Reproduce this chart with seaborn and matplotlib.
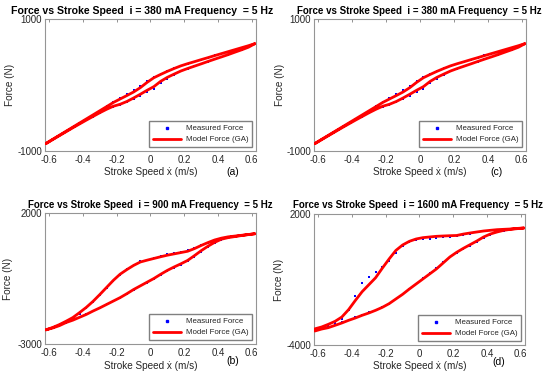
import pandas as pd
import matplotlib
matplotlib.use('Agg')
import matplotlib.pyplot as plt
from matplotlib.lines import Line2D
import seaborn as sns

# Stroke speed grid (m/s), shared by all branches
speed = [-0.62, -0.58, -0.54, -0.50, -0.46, -0.42, -0.38, -0.34, -0.30, -0.26, -0.22,
         -0.18, -0.14, -0.10, -0.06, -0.02, 0.02, 0.06, 0.10, 0.14, 0.18, 0.22,
         0.26, 0.30, 0.34, 0.38, 0.42, 0.46, 0.50, 0.54, 0.58, 0.62]

# i = 380 mA (panels a and c)
meas_380_up = [-884, -822, -760, -699, -637, -574, -512, -450, -388, -324, -258, -198,
               -138, -78, -10, 62, 118, 163, 208, 252, 292, 325, 355, 386, 416, 447,
               477, 507, 537, 567, 598, 625]
meas_380_low = [-888, -830, -770, -710, -650, -592, -535, -478, -422, -370, -326, -296,
                -258, -212, -162, -105, -55, 25, 96, 155, 206, 246, 282, 317, 352, 388,
                422, 457, 494, 531, 570, 625]
model_380_up = [-886, -824, -762, -700, -638, -576, -514, -452, -390, -328, -265, -212,
                -160, -106, -40, 40, 110, 160, 207, 250, 290, 323, 353, 384, 414, 445,
                475, 505, 535, 565, 595, 628]
model_380_low = [-890, -828, -768, -708, -648, -590, -532, -476, -420, -368, -322, -292,
                 -250, -197, -140, -80, -25, 55, 116, 165, 212, 250, 285, 320, 356, 391,
                 425, 460, 497, 533, 572, 628]

# i = 900 mA (panel b)
meas_900_up = [-2450, -2370, -2270, -2150, -2040, -1870, -1640, -1400, -1130, -860, -590,
               -350, -150, 20, 150, 225, 295, 360, 420, 475, 530, 590, 670, 770, 870,
               960, 1030, 1080, 1115, 1145, 1175, 1200]
meas_900_low = [-2450, -2380, -2290, -2190, -2080, -1970, -1860, -1735, -1615, -1490,
                -1360, -1230, -1085, -930, -795, -660, -520, -370, -230, -100, 20, 150,
                320, 510, 690, 850, 975, 1045, 1090, 1130, 1170, 1200]
model_900_up = [-2460, -2370, -2260, -2130, -1990, -1800, -1600, -1370, -1110, -840, -570,
                -335, -160, 0, 130, 200, 265, 330, 390, 440, 490, 540, 640, 760, 870,
                970, 1040, 1090, 1120, 1150, 1180, 1210]
model_900_low = [-2460, -2390, -2300, -2180, -2090, -1980, -1870, -1740, -1620, -1490,
                 -1360, -1230, -1080, -920, -780, -640, -500, -340, -190, -60, 60, 190,
                 370, 560, 730, 880, 1000, 1060, 1100, 1140, 1175, 1210]

# i = 1600 mA (panel d)
meas_1600_up = [-3290, -3221, -3115, -2992, -2809, -2382, -1771, -1160, -885, -656, -443,
                -168, 214, 519, 702, 794, 840, 870, 901, 931, 962, 1008, 1053, 1099,
                1160, 1206, 1252, 1282, 1313, 1328, 1343, 1359]
meas_1600_low = [-3300, -3220, -3150, -3050, -2950, -2840, -2730, -2610, -2500, -2390,
                 -2260, -2100, -1900, -1680, -1430, -1190, -950, -710, -470, -210, 40,
                 230, 390, 550, 720, 900, 1050, 1160, 1240, 1290, 1325, 1355]
model_1600_up = [-3260, -3176, -3053, -2916, -2718, -2380, -1960, -1560, -1240, -920, -480,
                 -60, 330, 580, 748, 855, 916, 947, 977, 992, 1005, 1015, 1080, 1130,
                 1176, 1221, 1252, 1282, 1298, 1313, 1340, 1359]
model_1600_low = [-3360, -3270, -3206, -3099, -2992, -2870, -2763, -2641, -2534, -2412,
                  -2275, -2107, -1893, -1679, -1435, -1206, -977, -748, -519, -244, 31,
                  244, 427, 595, 763, 947, 1084, 1176, 1252, 1298, 1328, 1359]

x_ticks = [-0.6, -0.4, -0.2, 0, 0.2, 0.4, 0.6]
x_tick_labels = ['-0.6', '-0.4', '-0.2', '0', '0.2', '0.4', '0.6']

sns.set_theme(style='white')
plt.rcParams['font.family'] = ['Liberation Sans', 'DejaVu Sans']

fig = plt.figure(figsize=(5.5, 3.77), dpi=100)

panels = [
    # axes rect, current, ylim, data, letter, letter pos, title pos, title size, ylabel x, xlabel y
    ([0.0818, 0.5995, 0.3836, 0.3501], '380', (-1000, 1000),
     (meas_380_up, meas_380_low, model_380_up, model_380_low), '(a)', (0.89, -0.16),
     (0.46, 1.06), 7.6, -0.14, -0.12),
    ([0.5709, 0.5995, 0.3855, 0.3501], '380', (-1000, 1000),
     (meas_380_up, meas_380_low, model_380_up, model_380_low), '(c)', (0.86, -0.16),
     (0.495, 1.06), 7.0, -0.135, -0.12),
    ([0.0818, 0.0875, 0.3836, 0.3475], '900', (-3000, 2000),
     (meas_900_up, meas_900_low, model_900_up, model_900_low), '(b)', (0.89, -0.13),
     (0.498, 1.062), 7.0, -0.15, -0.13),
    ([0.5709, 0.0849, 0.3836, 0.3475], '1600', (-4000, 2000),
     (meas_1600_up, meas_1600_low, model_1600_up, model_1600_low), '(d)', (0.877, -0.13),
     (0.493, 1.069), 7.0, -0.14, -0.12),
]

for rect, cur, ylim, (m_up, m_low, f_up, f_low), letter, lpos, tpos, tsize, ylab_x, xlab_y in panels:
    ax = fig.add_axes(rect)
    meas = pd.DataFrame({'x': speed + speed, 'y': m_up + m_low})
    model = pd.DataFrame({'x': speed + speed[::-1], 'y': f_up + f_low[::-1]})
    sns.scatterplot(data=meas, x='x', y='y', ax=ax, color='blue', marker='s',
                    s=2.2, linewidth=0, zorder=2)
    sns.lineplot(data=model, x='x', y='y', ax=ax, sort=False, estimator=None,
                 color='red', linewidth=2.0, zorder=3)

    ax.set_xlim(-0.625, 0.625)
    ax.set_ylim(*ylim)
    ax.set_xticks(x_ticks)
    ax.set_xticklabels(x_tick_labels)
    ax.set_yticks(list(ylim))
    ax.set_yticklabels([str(v) for v in ylim])
    ax.tick_params(axis='x', direction='in', length=2, top=True, width=0.6,
                   color='#808080', labelcolor='#262626', labelsize=7, pad=3)
    ax.tick_params(axis='y', direction='in', length=0, color='#808080',
                   labelcolor='#262626', labelsize=7, pad=2)
    for sp in ax.spines.values():
        sp.set_color('#959595')
        sp.set_linewidth(0.8)

    ax.set_xlabel('Stroke Speed ẋ (m/s)', fontsize=7.2, color='#262626')
    ax.set_ylabel('Force (N)', fontsize=7.2, color='#262626')
    ax.xaxis.set_label_coords(0.5, xlab_y)
    ax.yaxis.set_label_coords(ylab_x, 0.5)

    ax.text(tpos[0], tpos[1], f'Force vs Stroke Speed  i = {cur} mA Frequency  = 5 Hz',
            transform=ax.transAxes, ha='center', va='center', fontsize=tsize,
            fontweight='bold', color='black')
    ax.text(lpos[0], lpos[1], letter, transform=ax.transAxes, ha='center', va='center',
            fontsize=7.5, color='black')

    handles = [Line2D([], [], marker='s', ms=1.5, ls='none', color='blue', label='Measured Force'),
               Line2D([], [], color='red', lw=2.0, label='Model Force (GA)')]
    ax.legend(handles=handles, loc='lower right', fontsize=5.7, frameon=True,
              fancybox=False, edgecolor='#808080', framealpha=1, borderaxespad=0.45,
              handlelength=3.6, borderpad=0.5, labelspacing=0.45, handletextpad=0.6)

fig.savefig('out.png', dpi=100)
